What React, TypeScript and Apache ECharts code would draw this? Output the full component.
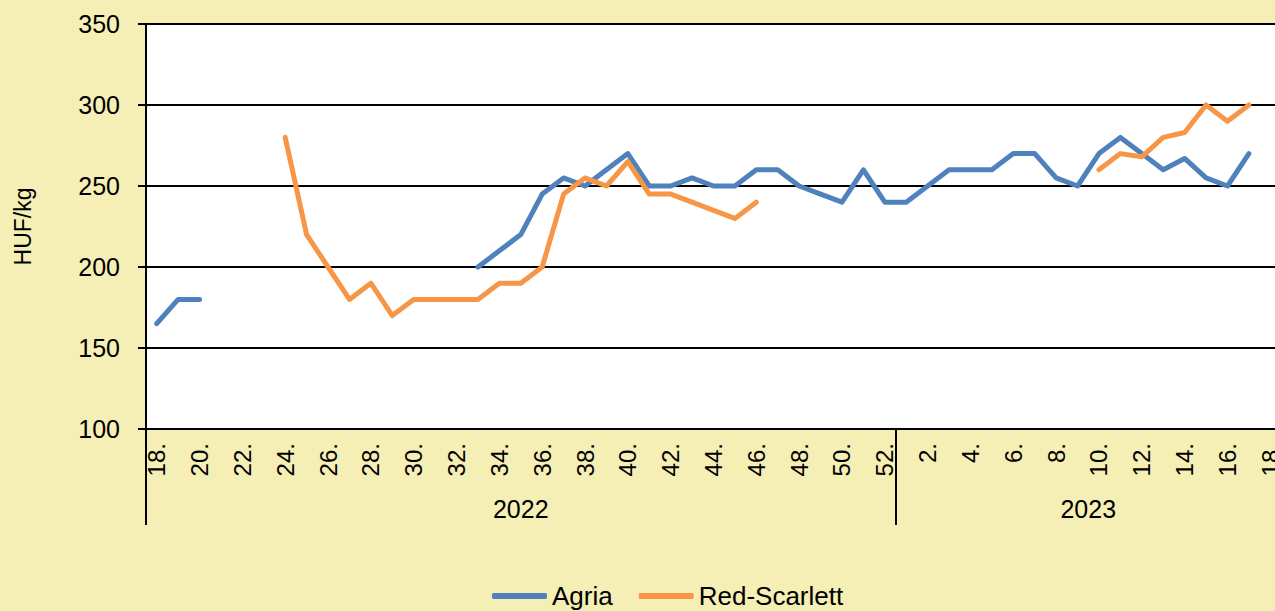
import React, { useEffect, useRef } from "react";
import * as echarts from "echarts";

const weeks2022 = [18, 19, 20, 21, 22, 23, 24, 25, 26, 27, 28, 29, 30, 31, 32, 33, 34, 35, 36, 37, 38, 39, 40, 41, 42, 43, 44, 45, 46, 47, 48, 49, 50, 51, 52];
const weeks2023 = [1, 2, 3, 4, 5, 6, 7, 8, 9, 10, 11, 12, 13, 14, 15, 16, 17, 18];
const yearNames = ["2022", "2023"];

const agria2022 = [165, 180, 180, null, null, null, null, null, null, null, null, null, null, null, null, 200, 210, 220, 245, 255, 250, 260, 270, 250, 250, 255, 250, 250, 260, 260, 250, 245, 240, 260, 240];
const agria2023 = [240, 250, 260, 260, 260, 270, 270, 255, 250, 270, 280, 270, 260, 267, 255, 250, 270, null];
const red2022 = [null, null, null, null, null, null, 280, 220, 200, 180, 190, 170, 180, 180, 180, 180, 190, 190, 200, 245, 255, 250, 265, 245, 245, 240, 235, 230, 240, null, null, null, null, null, null];
const red2023 = [null, null, null, null, null, null, null, null, null, 260, 270, 268, 280, 283, 300, 290, 300, null];

const yTicks = { min: 100, max: 350, interval: 50 };

const FONT = "'Liberation Sans', Arial, sans-serif";

export default function App() {
  const ref = useRef<HTMLDivElement>(null);
  useEffect(() => {
    if (!ref.current) return;
    const chart = echarts.init(ref.current, undefined, { renderer: "svg" });
    const categories = [...weeks2022, ...weeks2023].map((w) => w + ".");
    const n = categories.length;
    const boundary = weeks2022.length;
    const yearCenters = [boundary / 2, (boundary + n) / 2];
    chart.setOption({
      animation: false,
      backgroundColor: "#F5EFB5",
      textStyle: { fontFamily: FONT },
      grid: {
        left: 146,
        top: 24,
        bottom: 182,
        width: 1135,
        outerBoundsMode: "none",
        containLabel: false,
        show: true,
        backgroundColor: "#ffffff",
        borderWidth: 0,
      },
      legend: {
        left: 492,
        top: 583,
        padding: 0,
        icon: "roundRect",
        itemWidth: 55,
        itemHeight: 6,
        itemGap: 26,
        textStyle: { fontFamily: FONT, fontSize: 26, color: "#000", padding: [0, 0, 0, 0] },
        data: ["Agria", "Red-Scarlett"],
      },
      xAxis: [
        {
          type: "category",
          data: categories,
          boundaryGap: true,
          axisLine: { show: true, lineStyle: { color: "#000", width: 2 } },
          axisTick: { show: false },
          axisLabel: { interval: 1, rotate: 90, margin: 14, fontSize: 24, color: "#000", fontFamily: FONT },
          splitLine: { show: false },
        },
        {
          type: "category",
          data: categories,
          boundaryGap: true,
          position: "bottom",
          axisLine: { show: false },
          axisLabel: { show: false },
          axisTick: {
            show: true,
            interval: (index: number) => index === 0 || index === boundary,
            length: 96,
            lineStyle: { color: "#000", width: 2 },
          },
          splitLine: { show: false },
        },
        {
          type: "value",
          min: 0,
          max: n,
          interval: 0.5,
          position: "bottom",
          axisLine: { show: false },
          axisTick: { show: false },
          splitLine: { show: false },
          axisLabel: {
            margin: 67,
            fontSize: 25,
            color: "#000",
            fontFamily: FONT,
            formatter: (v: number) => {
              const i = yearCenters.indexOf(v);
              return i >= 0 ? yearNames[i] : "";
            },
          },
        },
      ],
      yAxis: {
        type: "value",
        min: yTicks.min,
        max: yTicks.max,
        interval: yTicks.interval,
        name: "HUF/kg",
        nameLocation: "middle",
        nameGap: 112,
        nameTextStyle: { fontSize: 23, color: "#000", fontFamily: FONT },
        axisLine: { show: true, lineStyle: { color: "#000", width: 2 } },
        axisTick: { show: true, length: 8, lineStyle: { color: "#000", width: 2 } },
        axisLabel: { fontSize: 25, color: "#000", margin: 26, fontFamily: FONT },
        splitLine: { show: true, lineStyle: { color: "#000", width: 2 } },
      },
      series: [
        {
          name: "Agria",
          type: "line",
          data: [...agria2022, ...agria2023],
          symbol: "none",
          connectNulls: false,
          lineStyle: { color: "#4F81BD", width: 5, cap: "round", join: "round" },
          itemStyle: { color: "#4F81BD" },
        },
        {
          name: "Red-Scarlett",
          type: "line",
          data: [...red2022, ...red2023],
          symbol: "none",
          connectNulls: false,
          lineStyle: { color: "#F79646", width: 5, cap: "round", join: "round" },
          itemStyle: { color: "#F79646" },
        },
      ],
    });
    return () => chart.dispose();
  }, []);
  return <div ref={ref} style={{ position: "fixed", left: 0, top: 0, width: 1275, height: 611 }} />;
}
